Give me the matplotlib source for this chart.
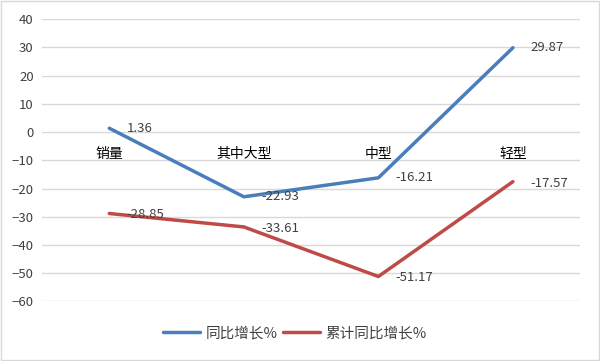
import matplotlib.pyplot as plt
from matplotlib.patches import Rectangle

plt.rcParams['font.family'] = ['Noto Sans CJK SC', 'DejaVu Sans']

categories = ['销量', '其中大型', '中型', '轻型']
yoy = [1.36, -22.93, -16.21, 29.87]
cum_yoy = [-28.85, -33.61, -51.17, -17.57]
series_names = ['同比增长%', '累计同比增长%']

blue = '#4a7ebb'
red = '#be4b48'
text_col = '#404040'

fig = plt.figure(figsize=(6, 3.61), dpi=100)
ax = fig.add_axes([0.07, 0.165, 0.897, 0.782])

x = range(len(categories))
ax.plot(x, yoy, color=blue, lw=2.5, label=series_names[0], solid_capstyle='round')
ax.plot(x, cum_yoy, color=red, lw=2.5, label=series_names[1], solid_capstyle='round')

for xi, v in zip(x, yoy):
    ax.annotate(f'{v:.2f}', (xi, v), xytext=(12.5, 0), textcoords='offset points',
                ha='left', va='center', fontsize=9.5, color=text_col)
for xi, v in zip(x, cum_yoy):
    ax.annotate(f'{v:.2f}', (xi, v), xytext=(12.5, -1), textcoords='offset points',
                ha='left', va='center', fontsize=9.5, color=text_col)

ax.set_xlim(-0.5, len(categories) - 0.5)
ax.set_ylim(-60, 40)
ax.set_yticks(range(-60, 41, 10))
ax.grid(axis='y', color='#d9d9d9', lw=1)
ax.set_axisbelow(True)

ax.set_xticks(list(x))
ax.set_xticklabels(categories, fontsize=11, color=text_col)
ax.spines['bottom'].set_position(('data', 0))
for s in ['top', 'right', 'left', 'bottom']:
    ax.spines[s].set_visible(False)
ax.tick_params(axis='x', length=0, pad=11)
ax.tick_params(axis='y', length=0, labelsize=9.5, labelcolor=text_col, pad=6)

ax.legend(loc='lower center', bbox_to_anchor=(0.47, -0.185), ncol=2, frameon=False,
          fontsize=10.5, handlelength=2.5, columnspacing=0.4, handletextpad=0.4,
          labelcolor=text_col)

fig.patches.append(Rectangle((0.002, 0.003), 0.996, 0.994, transform=fig.transFigure,
                             fill=False, edgecolor='#d9d9d9', lw=1))

fig.savefig('out.png', dpi=100)
